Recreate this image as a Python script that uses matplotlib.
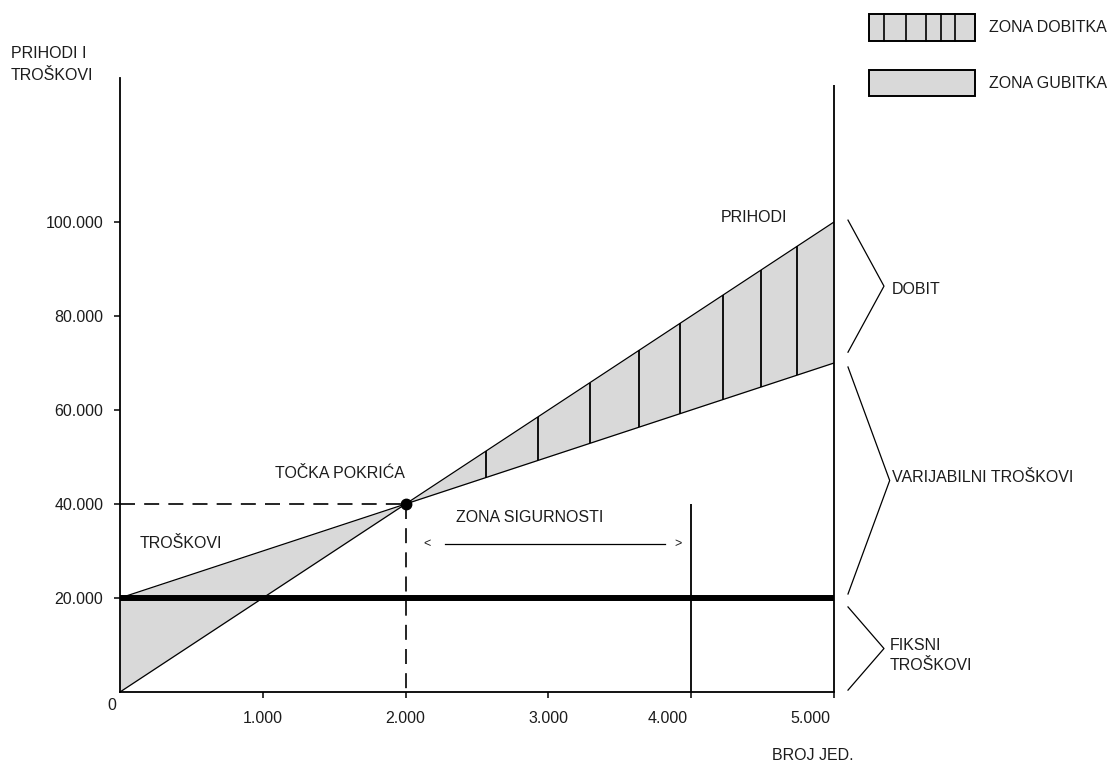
import numpy as np
import matplotlib
matplotlib.use("Agg")
import matplotlib.pyplot as plt
from matplotlib.patches import Rectangle
from matplotlib.lines import Line2D

plt.rcParams['font.family'] = ['Liberation Sans', 'DejaVu Sans']

# ---- data ----
units = [0, 5000]
revenue = [0, 100000]
cost = [20000, 70000]
fixed_cost = 20000
break_even_units = 2000
break_even_value = 40000
safety_limit_units = 4000
profit_hatch_units = [2563, 2927, 3291, 3634, 3922, 4223, 4489, 4741]
x_ticks = [1000, 2000, 3000, 4000, 5000]
x_tick_labels = ["1.000", "2.000", "3.000", "4.000", "5.000"]
y_ticks = [20000, 40000, 60000, 80000, 100000]
y_tick_labels = ["20.000", "40.000", "60.000", "80.000", "100.000"]
brace_spans = [(100400, 72300), (69150, 20850), (18100, 400)]
brace_tips = [5350, 5390, 5350]

# ---- layout ----
W, H = 1112, 763
x0px, x5px = 120, 834
y0px, ytop_px = 692, 78
ppk = 4.7  # pixels per 1000 units of value
TXT = '#1c1c1c'
GREY = '#d9d9d9'
FS = 11.5

def fx(x):
    return x / W

def fy(y):
    return 1 - y / H

fig = plt.figure(figsize=(W / 100, H / 100), dpi=100)
ax = fig.add_axes([x0px / W, (H - y0px) / H, (x5px - x0px) / W, (y0px - ytop_px) / H])
ax.set_xlim(0, 5000)
ytop_val = (y0px - ytop_px) / ppk * 1000
ax.set_ylim(0, ytop_val)

def rev(x):
    return np.interp(x, units, revenue)

def cst(x):
    return np.interp(x, units, cost)

# loss zone
xl = np.linspace(0, break_even_units, 50)
ax.fill_between(xl, rev(xl), cst(xl), color=GREY, lw=0, zorder=1)
# profit zone
xp = np.linspace(break_even_units, units[-1], 50)
ax.fill_between(xp, rev(xp), cst(xp), color=GREY, lw=0, zorder=1)
# hatch lines in profit zone
hx = np.array(profit_hatch_units)
ax.vlines(hx, cst(hx), rev(hx), colors='black', lw=1.3, zorder=3)

# revenue and cost lines
ax.plot(units, revenue, color='black', lw=0.9, zorder=4)
ax.plot(units, cost, color='black', lw=0.9, zorder=4)
# fixed cost
ax.hlines(fixed_cost, units[0], units[-1], colors='black', lw=4.3, zorder=5)

# break-even dashed guides
ax.plot([0, break_even_units], [break_even_value, break_even_value], color='black',
        lw=1.2, ls=(0, (9, 5.5)), zorder=4)
ax.plot([break_even_units, break_even_units], [break_even_value, 0], color='black',
        lw=1.2, ls=(0, (9, 5.5)), zorder=4)
ax.plot([break_even_units], [break_even_value], 'o', color='black', ms=7.5, zorder=6)

# safety limit and right border
ax.vlines(safety_limit_units, 0, break_even_value, colors='black', lw=1.3, zorder=4)
ax.vlines(units[-1], 0, (y0px - 85) / ppk * 1000, colors='black', lw=1.3, zorder=4, clip_on=False)

# safety zone arrow
arr_y = 31500
ax.plot([2276, 3817], [arr_y, arr_y], color='black', lw=0.9)
ax.text(2150, arr_y, "<", ha='center', va='center', fontsize=9, color=TXT)
ax.text(3908, arr_y, ">", ha='center', va='center', fontsize=9, color=TXT)

# braces
for (yt, yb), tip in zip(brace_spans, brace_tips):
    ym = (yt + yb) / 2
    ax.plot([5098, tip, 5098], [yt, ym, yb], color='black', lw=0.9, clip_on=False)

# spines & ticks
for s in ['top', 'right']:
    ax.spines[s].set_visible(False)
for s in ['left', 'bottom']:
    ax.spines[s].set_linewidth(1.3)
ax.set_xticks(x_ticks)
ax.set_xticklabels(x_tick_labels)
ax.set_yticks(y_ticks)
ax.set_yticklabels(y_tick_labels)
ax.tick_params(axis='x', direction='out', length=4, width=1.1, pad=10, labelsize=FS, labelcolor=TXT)
ax.tick_params(axis='y', direction='out', length=4, width=1.1, pad=8, labelsize=FS, labelcolor=TXT)
import matplotlib.transforms as mtransforms
for lab, val in zip(ax.get_xticklabels(), x_ticks):
    if val >= 4000:
        lab.set_transform(lab.get_transform() + mtransforms.ScaledTranslation(-24 / 100, 0, fig.dpi_scale_trans))

# free text
def t(x, y, s, ha='left', va='center', **kw):
    fig.text(fx(x), fy(y), s, ha=ha, va=va, fontsize=FS, color=TXT, **kw)

t(112, 706, "0", ha='center')
t(11, 54, "PRIHODI I")
t(11, 75, "TROŠKOVI")
t(721, 218, "PRIHODI")
t(892, 290, "DOBIT")
t(892, 478, "VARIJABILNI TROŠKOVI")
t(890, 645, "FIKSNI")
t(890, 666, "TROŠKOVI")
t(275, 473, "TOČKA POKRIĆA")
t(140, 543, "TROŠKOVI")
t(456, 517, "ZONA SIGURNOSTI")
t(813, 755, "BROJ JED.", ha='center')

# legend
def box(x1, y1, x2, y2):
    fig.add_artist(Rectangle((fx(x1), fy(y2)), (x2 - x1) / W, (y2 - y1) / H,
                             transform=fig.transFigure, facecolor=GREY,
                             edgecolor='black', lw=1.4))

box(869, 14, 975, 41)
for lx in [884, 906, 926, 941, 955]:
    fig.add_artist(Line2D([fx(lx), fx(lx)], [fy(14), fy(41)], transform=fig.transFigure,
                          color='black', lw=1.2))
box(869, 70, 975, 96)
t(989, 28, "ZONA DOBITKA")
t(989, 83, "ZONA GUBITKA")

fig.savefig("out.png", dpi=100)
